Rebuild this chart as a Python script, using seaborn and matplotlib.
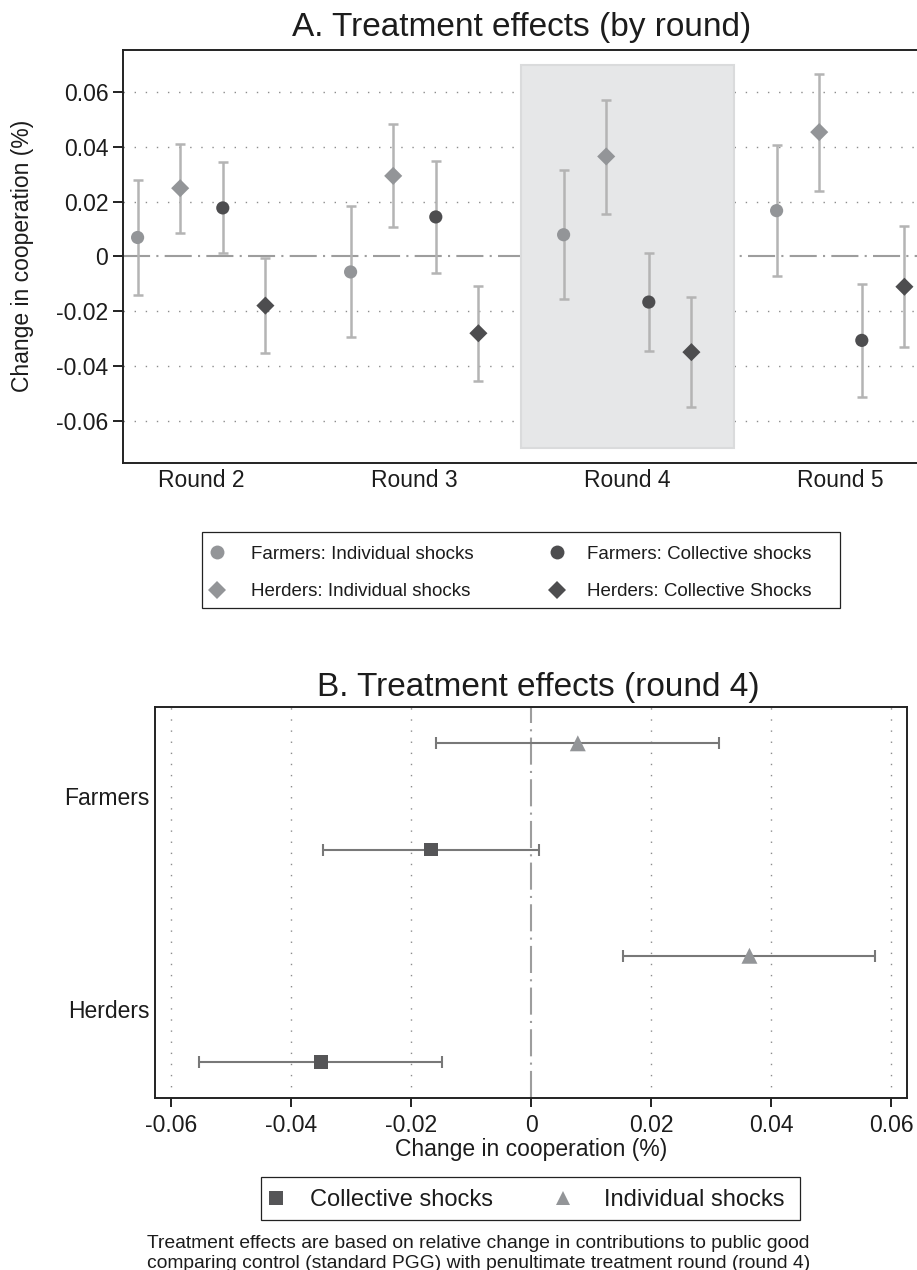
import numpy as np
import pandas as pd
import matplotlib
matplotlib.use("Agg")
import matplotlib.pyplot as plt
from matplotlib.lines import Line2D
from matplotlib.patches import Rectangle
import seaborn as sns

# ------------------------------------------------------------------ data
rounds = ["Round 2", "Round 3", "Round 4", "Round 5"]
round_nums = [2, 3, 4, 5]
series = ["Farmers: Individual shocks", "Herders: Individual shocks",
          "Farmers: Collective shocks", "Herders: Collective Shocks"]

fi_est = [0.0069, -0.0057, 0.0079, 0.0167]
fi_lo = [-0.0141, -0.0295, -0.0156, -0.0071]
fi_hi = [0.0280, 0.0183, 0.0315, 0.0406]

hi_est = [0.0249, 0.0294, 0.0365, 0.0454]
hi_lo = [0.0087, 0.0106, 0.0156, 0.0238]
hi_hi = [0.0412, 0.0482, 0.0573, 0.0668]

fc_est = [0.0177, 0.0144, -0.0167, -0.0307]
fc_lo = [0.0012, -0.0061, -0.0346, -0.0515]
fc_hi = [0.0343, 0.0350, 0.0013, -0.0100]

hc_est = [-0.0180, -0.0281, -0.0350, -0.0111]
hc_lo = [-0.0353, -0.0456, -0.0552, -0.0330]
hc_hi = [-0.0005, -0.0107, -0.0149, 0.0112]

# panel B (round 4)
groups_b = ["Farmers", "Herders"]
b_group = ["Farmers", "Farmers", "Herders", "Herders"]
b_shock = ["Individual shocks", "Collective shocks", "Individual shocks", "Collective shocks"]
b_est = [0.0078, -0.0167, 0.0364, -0.0350]
b_lo = [-0.0158, -0.0347, 0.0154, -0.0553]
b_hi = [0.0314, 0.0014, 0.0573, -0.0149]

value_ticks = [-0.06, -0.04, -0.02, 0, 0.02, 0.04, 0.06]
value_tick_labels = ["-0.06", "-0.04", "-0.02", "0", "0.02", "0.04", "0.06"]

title_a = "A. Treatment effects (by round)"
title_b = "B. Treatment effects (round 4)"
axis_label = "Change in cooperation (%)"
footnote = ["Treatment effects are based on relative change in contributions to public good",
            "comparing control (standard PGG) with penultimate treatment round (round 4)"]

# ------------------------------------------------------------------ style
sns.set_style("white")
plt.rcParams["font.family"] = ["Liberation Sans", "DejaVu Sans"]
plt.rcParams["axes.unicode_minus"] = False
TXT = "#1c1c1c"
SPINE = "#222222"
LIGHT = "#939598"
DARK = "#4d4d4f"
plt.rcParams["text.color"] = TXT

W, H = 917, 1270
fig = plt.figure(figsize=(W / 100, H / 100), dpi=100)
fig.patch.set_facecolor("white")


def fx(px):
    return px / W


def fy(py):
    return 1 - py / H


# ------------------------------------------------------------------ panel A
axA = fig.add_axes([fx(123), fy(462.7), (919 - 123) / W, (462.7 - 50) / H])

offsets = {series[0]: -0.3, series[1]: -0.1, series[2]: 0.1, series[3]: 0.3}
est_all = [fi_est, hi_est, fc_est, hc_est]
lo_all = [fi_lo, hi_lo, fc_lo, hc_lo]
hi_all = [fi_hi, hi_hi, fc_hi, hc_hi]
rows = []
for s, e, l, h in zip(series, est_all, lo_all, hi_all):
    for r, ev, lv, hv in zip(round_nums, e, l, h):
        rows.append(dict(series=s, round=r, x=r + offsets[s], est=ev, lo=lv, hi=hv))
dfA = pd.DataFrame(rows)

for y in value_ticks:
    if y != 0:
        axA.axhline(y, color="#8c8c8c", lw=1.0, ls=(0, (1, 7)), zorder=1)
axA.axhline(0, color="#9d9d9d", lw=1.5, ls=(0, (13, 3, 1, 3)), zorder=1.5)
axA.add_patch(Rectangle((3.5, -0.07), 1.0, 0.14, facecolor="#e6e7e8",
                        edgecolor="#dadbdc", lw=1.5, zorder=2))

axA.errorbar(dfA["x"], dfA["est"], yerr=[dfA["est"] - dfA["lo"], dfA["hi"] - dfA["est"]],
             fmt="none", ecolor="#b4b4b4", elinewidth=1.8, capsize=3.9, capthick=1.8, zorder=3)

palA = {series[0]: LIGHT, series[1]: LIGHT, series[2]: DARK, series[3]: DARK}
mkA = {series[0]: "o", series[1]: "D", series[2]: "o", series[3]: "D"}
szA = {series[0]: 90, series[1]: 85, series[2]: 90, series[3]: 85}
sns.scatterplot(data=dfA, x="x", y="est", hue="series", style="series", size="series",
                palette=palA, markers=mkA, sizes=szA, linewidth=0, legend=False,
                ax=axA, zorder=4)

axA.set_xlim(1.6315, 5.3685)
axA.set_ylim(-0.0754, 0.0754)
axA.set_xticks(round_nums)
axA.set_xticklabels(rounds)
axA.set_yticks(value_ticks)
axA.set_yticklabels(value_tick_labels)
axA.tick_params(axis="x", length=0, pad=4.5, labelsize=16.5, labelcolor=TXT)
axA.tick_params(axis="y", length=7, width=1.4, color=SPINE, pad=3.6, labelsize=16.5,
                labelcolor=TXT, left=True)
axA.set_xlabel("")
axA.set_ylabel(axis_label, fontsize=16.5, color=TXT)
axA.yaxis.set_label_coords(-0.1118, 0.5)
for side in ["left", "top", "bottom"]:
    axA.spines[side].set_linewidth(1.4)
    axA.spines[side].set_color(SPINE)
axA.spines["right"].set_visible(False)

fig.text(fx(522), fy(36), title_a, ha="center", va="baseline", fontsize=24, color=TXT)

# legend A (two columns + frame)
legA_fs = 13.5
hA = [Line2D([], [], ls="none", marker=mkA[s], color=palA[s], mew=0,
             markersize=10 if mkA[s] == "o" else 9.5) for s in series]
common = dict(loc="upper left", frameon=False, borderpad=0, borderaxespad=0,
              handlelength=1.0, labelspacing=1.09, fontsize=legA_fs)
fig.legend(hA[:2], series[:2], bbox_to_anchor=(fx(207.3), fy(545.8)),
           handletextpad=1.33, **common)
fig.legend(hA[2:], series[2:], bbox_to_anchor=(fx(547.3), fy(545.8)),
           handletextpad=1.1, **common)
fig.add_artist(Rectangle((fx(201.7), fy(608.3)), (840 - 201.7) / W, (608.3 - 531.7) / H,
                         transform=fig.transFigure, fill=False, edgecolor=SPINE, lw=0.9))

# ------------------------------------------------------------------ panel B
axB = fig.add_axes([fx(155.3), fy(1097.7), (906.7 - 155.3) / W, (1097.7 - 707.3) / H])
dfB = pd.DataFrame(dict(group=b_group, shock=b_shock, est=b_est, lo=b_lo, hi=b_hi))
dfB["ypos"] = np.arange(1, len(dfB) + 1)

for x in value_ticks:
    if x != 0:
        axB.axvline(x, color="#8c8c8c", lw=1.0, ls=(0, (1, 7)), zorder=1)
axB.axvline(0, color="#9d9d9d", lw=1.5, ls=(0, (13, 3, 1, 3)), zorder=1.5)

axB.errorbar(dfB["est"], dfB["ypos"], xerr=[dfB["est"] - dfB["lo"], dfB["hi"] - dfB["est"]],
             fmt="none", ecolor="#787878", elinewidth=1.5, capsize=4.6, capthick=1.5, zorder=3)
palB = {"Collective shocks": "#555557", "Individual shocks": LIGHT}
mkB = {"Collective shocks": "s", "Individual shocks": "^"}
szB = {"Collective shocks": 100, "Individual shocks": 132}
sns.scatterplot(data=dfB, x="est", y="ypos", hue="shock", style="shock", size="shock",
                palette=palB, markers=mkB, sizes=szB, linewidth=0, legend=False,
                ax=axB, zorder=4)

axB.set_xlim(-0.0626, 0.0626)
axB.set_ylim(4.336, 0.661)
axB.set_xticks(value_ticks)
axB.set_xticklabels(value_tick_labels)
axB.set_yticks([1.5, 3.5])
axB.set_yticklabels(groups_b)
axB.tick_params(axis="x", length=6.7, width=1.4, color=SPINE, pad=5, labelsize=16.5,
                labelcolor=TXT, bottom=True)
axB.tick_params(axis="y", length=0, pad=4.3, labelsize=16.5, labelcolor=TXT)
axB.set_ylabel("")
axB.set_xlabel(axis_label, fontsize=16.5, color=TXT)
axB.xaxis.set_label_coords(0.5, -0.1025)
for side in ["left", "top", "bottom", "right"]:
    axB.spines[side].set_linewidth(1.4)
    axB.spines[side].set_color(SPINE)

fig.text(fx(538), fy(696), title_b, ha="center", va="baseline", fontsize=24, color=TXT)

# legend B
legB_fs = 17
hB_c = Line2D([], [], ls="none", marker="s", color=palB["Collective shocks"], mew=0, markersize=10)
hB_i = Line2D([], [], ls="none", marker="^", color=palB["Individual shocks"], mew=0, markersize=10)
commonB = dict(loc="upper left", frameon=False, borderpad=0, borderaxespad=0,
               handlelength=1.0, fontsize=legB_fs)
fig.legend([hB_c], ["Collective shocks"], bbox_to_anchor=(fx(264.2), fy(1188.8)),
           handletextpad=0.95, **commonB)
fig.legend([hB_i], ["Individual shocks"], bbox_to_anchor=(fx(550.7), fy(1188.8)),
           handletextpad=1.26, **commonB)
fig.add_artist(Rectangle((fx(260.7), fy(1220)), (800 - 260.7) / W, (1220 - 1177) / H,
                         transform=fig.transFigure, fill=False, edgecolor=SPINE, lw=0.9))

# footnote
fig.text(fx(478.5), fy(1248), footnote[0], ha="center", va="baseline", fontsize=13.85, color=TXT)
fig.text(fx(478.5), fy(1268.3), footnote[1], ha="center", va="baseline", fontsize=13.85, color=TXT)

fig.savefig("out.png", dpi=100, facecolor="white")
